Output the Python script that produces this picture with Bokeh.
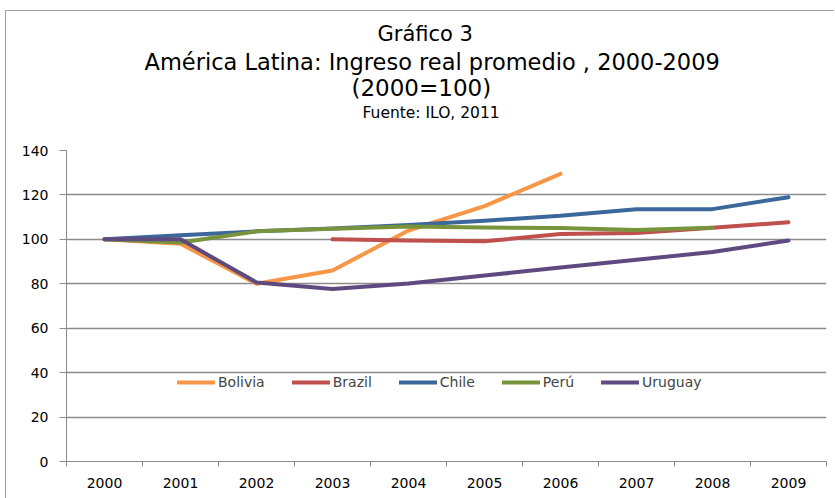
import numpy as np
from bokeh.plotting import figure
from bokeh.models import Range1d, FixedTicker, Legend, LegendItem, Title
from bokeh.embed import file_html
from bokeh.resources import INLINE

years = ["2000", "2001", "2002", "2003", "2004", "2005", "2006", "2007", "2008", "2009"]
nan = np.nan
bolivia = [100, 98.0, 80.0, 86.0, 104.0, 115.0, 129.5, nan, nan, nan]
brazil = [nan, nan, nan, 100.0, 99.5, 99.1, 102.4, 102.9, 105.2, 107.7]
chile = [100, 101.8, 103.6, 104.9, 106.5, 108.4, 110.6, 113.6, 113.6, 119.0]
peru = [100, 98.6, 103.6, 104.8, 105.8, 105.3, 105.1, 104.2, 105.2, nan]
uruguay = [100, 100.0, 80.6, 77.6, 80.1, 83.7, 87.3, 90.8, 94.3, 99.5]

series = [
    ("Bolivia", bolivia, "#F79646"),
    ("Brazil", brazil, "#C0504D"),
    ("Chile", chile, "#3C679A"),
    ("Perú", peru, "#77933C"),
    ("Uruguay", uruguay, "#5F4A80"),
]
yticks = [0, 20, 40, 60, 80, 100, 120, 140]

FONT = "DejaVu Sans"
GRAY = "#8C8C8C"

p = figure(width=829, height=488, output_backend="svg", toolbar_location=None,
           x_range=Range1d(0, len(years)), y_range=Range1d(0, 140),
           min_border_left=60, min_border_right=9, min_border_top=139,
           min_border_bottom=38, title=None)
p.outline_line_color = None
p.background_fill_color = "white"
p.border_fill_color = "white"

xc = [i + 0.5 for i in range(len(years))]
items = []
for name, vals, col in series:
    r = p.line(xc, vals, line_color=col, line_width=4, line_cap="round", line_join="round")
    items.append(LegendItem(label=name, renderers=[r]))

# x axis
p.xaxis.ticker = FixedTicker(ticks=xc, minor_ticks=list(range(len(years) + 1)))
p.xaxis.major_label_overrides = {x: y for x, y in zip(xc, years)}
p.xaxis.major_tick_out = 0
p.xaxis.major_tick_in = 0
p.xaxis.minor_tick_out = 5
p.xaxis.minor_tick_in = 0
p.xaxis.minor_tick_line_color = GRAY
p.xaxis.axis_line_color = GRAY
p.xaxis.major_label_standoff = 11
p.xaxis.major_label_text_font = FONT
p.xaxis.major_label_text_font_size = "14px"
p.xaxis.major_label_text_color = "black"
p.xgrid.grid_line_color = None

# y axis
p.yaxis.ticker = FixedTicker(ticks=yticks)
p.yaxis.major_tick_out = 7
p.yaxis.major_tick_in = 0
p.yaxis.minor_tick_line_color = None
p.yaxis.major_tick_line_color = GRAY
p.yaxis.axis_line_color = GRAY
p.yaxis.major_label_standoff = 11
p.yaxis.major_label_text_font = FONT
p.yaxis.major_label_text_font_size = "14px"
p.yaxis.major_label_text_color = "black"
p.ygrid.grid_line_color = GRAY
p.ygrid.grid_line_width = 1.5

legend = Legend(items=items, orientation="horizontal", location=(111, 69),
                border_line_color=None, background_fill_alpha=0,
                padding=0, margin=0, spacing=27, label_standoff=3,
                glyph_width=38, glyph_height=20,
                label_text_font=FONT, label_text_font_size="14px",
                label_height=20)
p.add_layout(legend, "center")

# spacer between frame and the title block
p.add_layout(Title(text=" ", text_font_size="1px", standoff=25.6), "above")
# title lines, nearest the frame first
titles = [
    ("Fuente: ILO, 2011", 15.5, 0, 296),
    ("(2000=100)", 23, 0.6, 285),
    ("América Latina: Ingreso real promedio , 2000-2009", 22.5, -5.4, 78),
    ("Gráfico 3", 21, 7.1, 311),
]
for txt, fs, so, off in titles:
    p.add_layout(Title(text=txt, text_font=FONT, text_font_size=f"{fs}px",
                       text_font_style="normal", align="left", offset=off,
                       standoff=so, text_color="black"), "above")

p.styles = {"margin": "10px 0px 0px 5px",
            "border-left": "1px solid #A0A0A0", "border-top": "1px solid #A0A0A0"}

open("out.html", "w").write(file_html(p, INLINE))
